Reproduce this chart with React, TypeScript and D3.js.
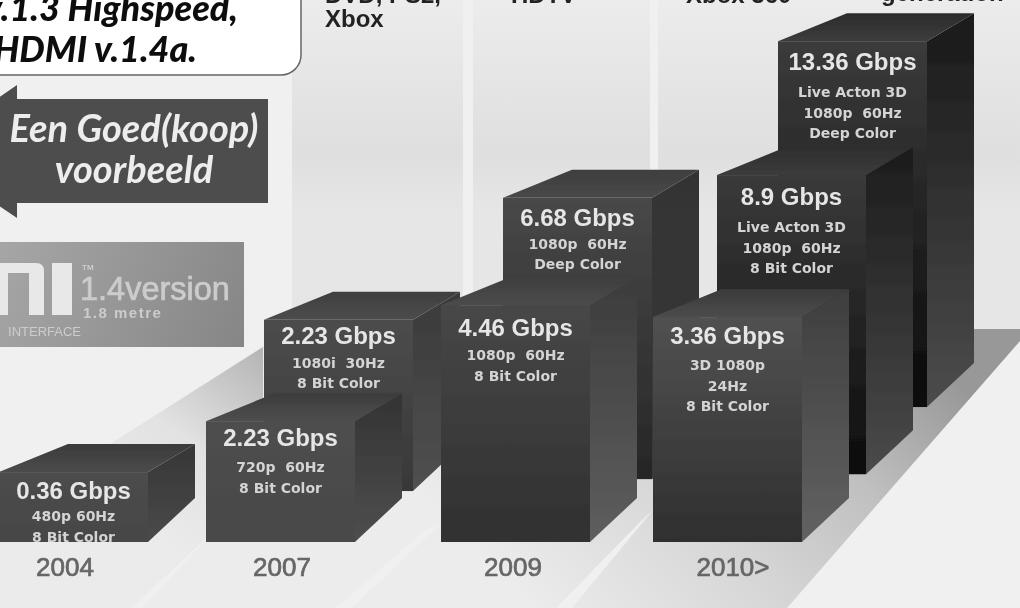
import { useEffect, useRef } from 'react';
import * as d3 from 'd3';

// bars in paint order, back row first
const barIds = ['r13', 'r89', 'r668', 'r223b', 'r446', 'r223', 'r336', 'r036'];
const rates = [13.36, 8.9, 6.68, 2.23, 4.46, 2.23, 3.36, 0.36];
const specs = [
  ['Live Acton 3D', '1080p  60Hz', 'Deep Color'],
  ['Live Acton 3D', '1080p  60Hz', '8 Bit Color'],
  ['1080p  60Hz', 'Deep Color'],
  ['1080i  30Hz', '8 Bit Color'],
  ['1080p  60Hz', '8 Bit Color'],
  ['720p  60Hz', '8 Bit Color'],
  ['3D 1080p', '24Hz', '8 Bit Color'],
  ['480p 60Hz', '8 Bit Color'],
];
// drawn level of each block, in percent of the height above the floor line
const barTops = [92.4, 67.7, 63.5, 41, 43.7, 22.3, 41.5, 12.9];
const barBases = [24.9, 12.5, 11.6, 9.4, 0, 0, 0, 0];

const years = ['2004', '2007', '2009', '2010>'];
const topLabels = ['DVD, PS2,', 'Xbox', 'HDTV', 'Xbox 360', 'generation'];

const W = 1020;
const H = 608;

const App = () => {
  const ref = useRef<SVGSVGElement>(null);

  useEffect(() => {
    const svg = d3.select(ref.current);
    svg.selectAll('*').remove();

    const y = d3.scaleLinear().domain([0, 100]).range([542, 0]);
    const xLeft = d3.scaleOrdinal<string, number>().domain(barIds).range([778, 717, 503, 264, 441, 206, 653, -1]);
    const xYear = d3.scaleOrdinal<string, number>().domain(years).range([65, 282, 513, 733]);
    const titleDrop = d3.scaleOrdinal<string, number>().domain(barIds).range([29, 30, 28, 24, 31, 25, 27, 27]);
    const specDrop = d3.scaleOrdinal<string, number>().domain(barIds).range([27, 27, 23, 24, 24, 26, 26, 22]);
    const frontTop = d3.scaleOrdinal<string, string>().domain(barIds)
      .range(['#3b3b3b', '#3a3a3a', '#484848', '#4c4c4c', '#474747', '#4e4e4e', '#515151', '#4c4c4c']);
    const frontBottom = d3.scaleOrdinal<string, string>().domain(barIds)
      .range(['#0a0a0a', '#0c0c0c', '#262626', '#383838', '#303030', '#484848', '#2f2f2f', '#464646']);
    const sideTop = d3.scaleOrdinal<string, string>().domain(barIds)
      .range(['#191919', '#1c1c1c', '#333333', '#3a3a3a', '#3c3c3c', '#333333', '#3e3e3e', '#363636']);
    const sideBottom = d3.scaleOrdinal<string, string>().domain(barIds)
      .range(['#4c4c4c', '#4a4a4a', '#3a3a3a', '#505050', '#5e5e5e', '#4e4e4e', '#626262', '#4a4a4a']);
    const capBack = d3.scaleOrdinal<string, string>().domain(barIds)
      .range(['#2b2b2b', '#2e2e2e', '#3e3e3e', '#3f3f3f', '#3e3e3e', '#3c3c3c', '#3a3a3a', '#3a3a3a']);
    const capFront = d3.scaleOrdinal<string, string>().domain(barIds)
      .range(['#3d3d3d', '#3c3c3c', '#484848', '#4c4c4c', '#4c4c4c', '#4e4e4e', '#4c4c4c', '#4c4c4c']);

    const frontW = 149;
    const depthX = 47;
    const depthY = 28;
    const capX = 69;
    const baseRise = 44;

    const path = d3.line();
    const defs = svg.append('defs');

    const vGrad = (id: string, stops: [number, string][]) => {
      const g = defs.append('linearGradient').attr('id', id).attr('x1', 0).attr('y1', 0).attr('x2', 0).attr('y2', 1);
      stops.forEach(([o, c]) => g.append('stop').attr('offset', o).attr('stop-color', c));
    };
    const userGrad = (id: string, p: number[], stops: [number, string][]) => {
      const g = defs.append('linearGradient').attr('id', id)
        .attr('gradientUnits', 'userSpaceOnUse')
        .attr('x1', p[0]).attr('y1', p[1]).attr('x2', p[2]).attr('y2', p[3]);
      stops.forEach(([o, c]) => g.append('stop').attr('offset', o).attr('stop-color', c));
    };

    vGrad('band', [[0, '#ececec'], [0.45, '#dfdfdf'], [0.62, '#e6e6e6']]);
    userGrad('logo', [0, 242, 244, 347], [[0, '#a6a6a6'], [1, '#868686']]);
    userGrad('floor', [900, 320, 560, 640], [[0, '#989898'], [0.3, '#c0c0c0'], [0.6, '#d6d6d6'], [1, '#ececec']]);
    userGrad('wedge', [263, 347, 130, 520], [[0, '#b4b4b4'], [0.55, '#e2e2e2'], [1, '#ebebeb']]);

    const blur = defs.append('filter').attr('id', 'soft');
    blur.append('feGaussianBlur').attr('stdDeviation', 0.7);

    const root = svg.append('g').attr('filter', 'url(#soft)');

    // backdrop
    root.append('rect').attr('width', W).attr('height', H).attr('fill', '#f0f0f0');
    const bandEdges = [[292, 463], [473, 650], [658, 1020]];
    root.selectAll('rect.band')
      .data(bandEdges)
      .enter()
      .append('rect')
      .attr('class', 'band')
      .attr('x', (d) => d[0])
      .attr('y', 0)
      .attr('width', (d) => d[1] - d[0])
      .attr('height', 340)
      .attr('fill', 'url(#band)');

    // floor with its light streaks
    root.append('path')
      .attr('d', path([[0, 512], [107, 446], [290, 329], [1020, 329], [1020, 341], [787, 608], [0, 608]]))
      .attr('fill', 'url(#floor)');
    root.append('path')
      .attr('d', path([[0, 512], [107, 446], [263, 347], [263, 420], [206, 540], [128, 608], [0, 608]]))
      .attr('fill', 'url(#wedge)');
    const streaks = [
      [[206, 540], [200, 544], [132, 608], [142, 608]],
      [[440, 524], [425, 530], [336, 608], [352, 608]],
      [[653, 510], [640, 522], [556, 608], [572, 608]],
    ] as [number, number][][];
    root.selectAll('path.streak')
      .data(streaks)
      .enter()
      .append('path')
      .attr('class', 'streak')
      .attr('d', (d) => path(d))
      .attr('fill', '#f0f0f0');

    // blocks
    const blocks = root.selectAll('g.block')
      .data(barIds)
      .enter()
      .append('g')
      .attr('class', 'block');

    blocks.each(function (id, i) {
      const g = d3.select(this);
      const x0 = xLeft(id);
      const x1 = x0 + frontW;
      const top = y(barTops[i]);
      const bot = y(barBases[i]);

      vGrad(`front-${id}`, [[0, frontTop(id)], [1, frontBottom(id)]]);
      vGrad(`side-${id}`, [[0, sideTop(id)], [1, sideBottom(id)]]);
      vGrad(`cap-${id}`, [[0, capBack(id)], [1, capFront(id)]]);

      g.append('path')
        .attr('d', path([[x1, top], [x1 + depthX, top - depthY], [x1 + depthX, bot - baseRise], [x1, bot]]))
        .attr('fill', `url(#side-${id})`);
      g.append('path')
        .attr('d', path([[x0, top], [x0 + capX, top - depthY], [x1 + depthX, top - depthY], [x1, top]]))
        .attr('fill', `url(#cap-${id})`);
      g.append('rect')
        .attr('x', x0)
        .attr('y', top)
        .attr('width', frontW)
        .attr('height', bot - top)
        .attr('fill', `url(#front-${id})`);

      const cx = x0 + frontW / 2;
      const titleY = top + titleDrop(id);
      g.append('text')
        .attr('x', cx)
        .attr('y', titleY)
        .attr('text-anchor', 'middle')
        .attr('font-family', 'Liberation Sans')
        .attr('font-weight', 'bold')
        .attr('font-size', 24)
        .attr('fill', '#e6e6e6')
        .text(`${rates[i]} Gbps`);
      specs[i].forEach((line, j) => {
        g.append('text')
          .attr('x', cx)
          .attr('y', titleY + specDrop(id) + j * 20.5)
          .attr('text-anchor', 'middle')
          .attr('font-family', 'DejaVu Sans')
          .attr('font-weight', 'bold')
          .attr('font-size', 14)
          .attr('fill', '#d4d4d4')
          .style('white-space', 'pre')
          .text(line);
      });
    });

    // year labels
    root.selectAll('text.year')
      .data(years)
      .enter()
      .append('text')
      .attr('class', 'year')
      .attr('x', (d) => xYear(d))
      .attr('y', 576)
      .attr('text-anchor', 'middle')
      .attr('font-family', 'Liberation Sans')
      .attr('font-size', 26)
      .attr('fill', '#666666')
      .attr('stroke', '#666666')
      .attr('stroke-width', 0.7)
      .text((d) => d);

    // cut-off console labels on top
    const topX = d3.scaleOrdinal<string, number>().domain(topLabels).range([325, 325, 511, 686, 881]);
    const topY = d3.scaleOrdinal<string, number>().domain(topLabels).range([3, 27, 3, 3, 1]);
    root.selectAll('text.top')
      .data(topLabels)
      .enter()
      .append('text')
      .attr('class', 'top')
      .attr('x', (d) => topX(d))
      .attr('y', (d) => topY(d))
      .attr('font-family', 'Liberation Sans')
      .attr('font-weight', 'bold')
      .attr('font-size', 24)
      .attr('fill', '#222222')
      .text((d) => d);

    // callout
    root.append('rect')
      .attr('x', -20)
      .attr('y', -30)
      .attr('width', 321)
      .attr('height', 105)
      .attr('rx', 20)
      .attr('fill', '#ffffff')
      .attr('stroke', '#666666')
      .attr('stroke-width', 1.5);
    const callout = [['v.1.3 Highspeed,', 238, 21], ['HDMI v.1.4a.', 197, 62]] as [string, number, number][];
    callout.forEach(([t, x, yy]) => {
      root.append('text')
        .attr('x', x)
        .attr('y', yy)
        .attr('text-anchor', 'end')
        .attr('font-family', 'Lato')
        .attr('font-weight', 900)
        .attr('font-style', 'italic')
        .attr('font-size', 36)
        .attr('fill', '#111111')
        .text(t);
    });

    // arrow
    root.append('path')
      .attr('d', path([[-80, 152], [17, 85], [17, 99], [268, 99], [268, 203], [17, 203], [17, 218]]))
      .attr('fill', '#4d4d4d');
    const arrowText = [['Een Goed(koop)', 142], ['voorbeeld', 183]] as [string, number][];
    arrowText.forEach(([t, yy]) => {
      root.append('text')
        .attr('x', 134)
        .attr('y', yy)
        .attr('text-anchor', 'middle')
        .attr('font-family', 'Lato')
        .attr('font-weight', 'bold')
        .attr('font-style', 'italic')
        .attr('font-size', 38)
        .attr('fill', '#ededed')
        .text(t);
    });

    // version badge
    root.append('rect').attr('x', -2).attr('y', 242).attr('width', 246).attr('height', 105).attr('fill', 'url(#logo)');
    root.append('path')
      .attr('d', 'M-2 263 H36 Q44 263 44 271 V315 H29 V273 H8 V315 H-2 Z')
      .attr('fill', '#e8e8e8');
    root.append('rect').attr('x', 52).attr('y', 263).attr('width', 20).attr('height', 52).attr('fill', '#e8e8e8');
    const badge = [
      { t: 'TM', x: 82, y: 270, size: 8, weight: 'bold', anchor: 'start', spacing: 0, stroke: 0 },
      { t: '1.4version', x: 80, y: 300, size: 32.5, weight: 'normal', anchor: 'start', spacing: 0, stroke: 0.7 },
      { t: '1.8 metre', x: 83, y: 318, size: 15, weight: 'bold', anchor: 'start', spacing: 1.5, stroke: 0 },
      { t: 'INTERFACE', x: 81, y: 336, size: 13, weight: 'normal', anchor: 'end', spacing: 0, stroke: 0 },
    ];
    badge.forEach((b) => {
      root.append('text')
        .attr('x', b.x)
        .attr('y', b.y)
        .attr('text-anchor', b.anchor)
        .attr('font-family', 'Liberation Sans')
        .attr('font-weight', b.weight)
        .attr('font-size', b.size)
        .attr('letter-spacing', b.spacing)
        .attr('fill', '#cccccc')
        .attr('stroke', '#cccccc')
        .attr('stroke-width', b.stroke)
        .text(b.t);
    });
  }, []);

  return <svg ref={ref} width={W} height={H} style={{ position: 'absolute', left: 0, top: 0 }} />;
};

export default App;
